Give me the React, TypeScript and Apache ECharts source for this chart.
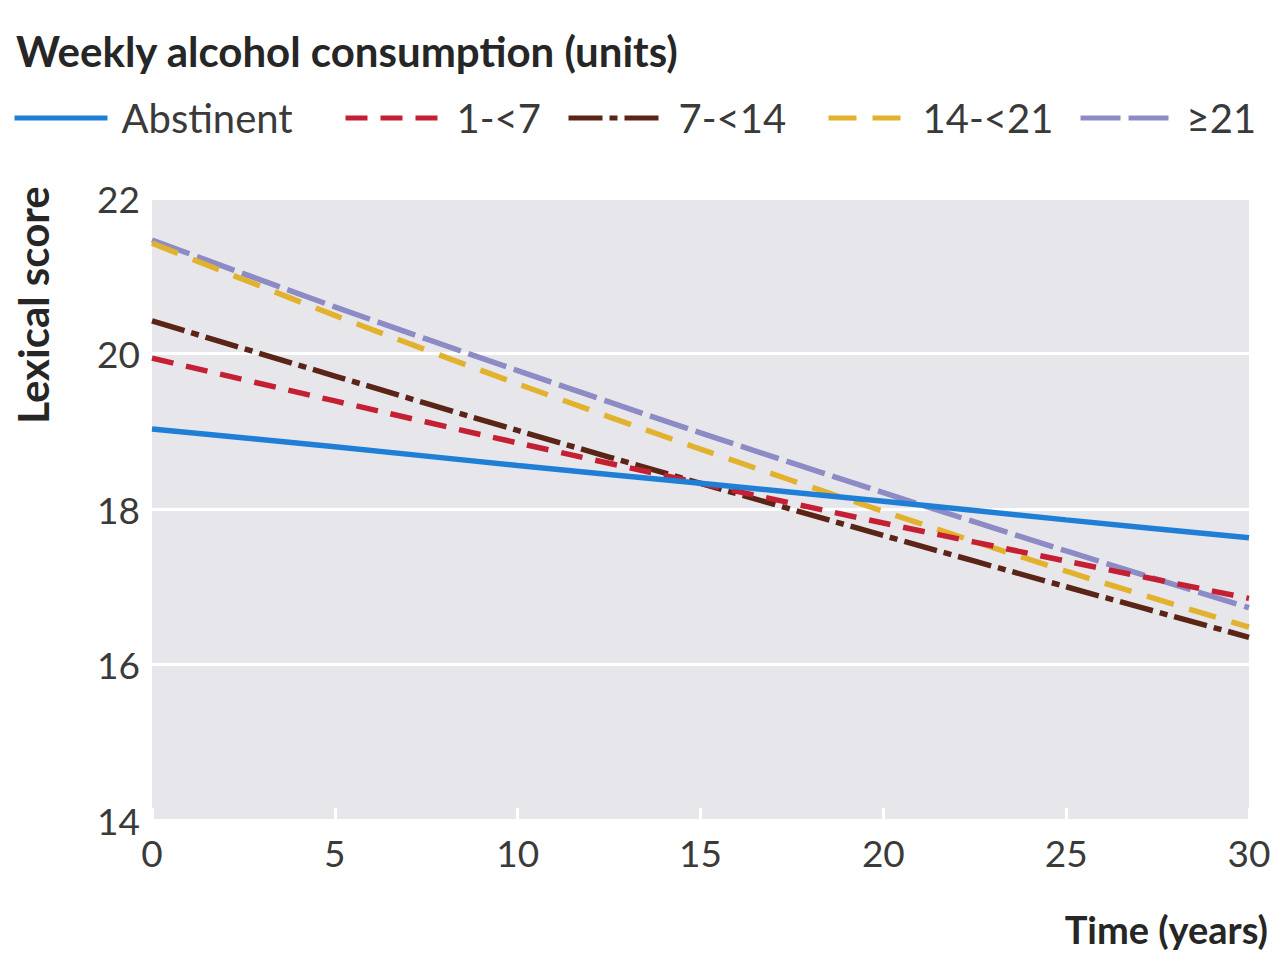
import React, { useEffect, useRef } from "react";
import * as echarts from "echarts";

const years = [0, 5, 10, 15, 20, 25, 30];
const abstinent = [19.03, 18.8, 18.56, 18.33, 18.1, 17.86, 17.63];
const units1to7 = [19.94, 19.39, 18.85, 18.33, 17.82, 17.33, 16.85];
const units7to14 = [20.42, 19.71, 19.01, 18.33, 17.66, 17.0, 16.35];
const units14to21 = [21.42, 20.49, 19.61, 18.77, 17.97, 17.2, 16.48];
const units21plus = [21.46, 20.6, 19.78, 18.98, 18.21, 17.46, 16.73];

const seriesNames = ["Abstinent", "1-<7", "7-<14", "14-<21", "≥21"];
const yTicks = [14, 16, 18, 20, 22];
const xTicks = [0, 5, 10, 15, 20, 25, 30];

const FONT = "Lato, 'Noto Sans', sans-serif";

function pairs(vals: number[]) {
  return years.map((x, i) => [x, vals[i]]);
}

export default function App() {
  const ref = useRef<HTMLDivElement>(null);
  useEffect(() => {
    document.body.style.margin = "0";
    const chart = echarts.init(ref.current!, null, { renderer: "svg" });
    const mk = (name: string, vals: number[], color: string, dash: number[] | "solid", z: number) => ({
      name,
      type: "line",
      data: pairs(vals),
      symbol: "none",
      smooth: 0.3,
      z,
      lineStyle: { color, width: 5.5, type: dash, cap: "butt" },
      itemStyle: { color },
    });
    const legendLeft = [12, 343, 566, 826, 1078];
    const legendIconW = [93, 97, 96, 80, 92];
    const legends = seriesNames.map((name, i) => ({
      data: [name],
      left: legendLeft[i],
      top: 98,
      padding: 0,
      itemWidth: legendIconW[i],
      itemHeight: 20,
      itemStyle: { opacity: 0 },
      lineStyle: { width: 5, cap: "butt" },
      textStyle: { fontFamily: FONT, fontSize: 40, color: "#3a3a3a", padding: [0, 0, 0, 9] },
    }));
    chart.setOption({
      animation: false,
      backgroundColor: "#ffffff",
      title: {
        text: "Weekly alcohol consumption (units)",
        left: 11,
        top: 25,
        textStyle: { fontFamily: FONT, fontSize: 42, fontWeight: "bold", color: "#262626" },
      },
      legend: legends,
      grid: {
        left: 152,
        right: 33,
        top: 198,
        bottom: 152,
        show: true,
        backgroundColor: "#e7e7eb",
        borderWidth: 0,
      },
      xAxis: {
        type: "value",
        min: xTicks[0],
        max: xTicks[xTicks.length - 1],
        interval: 5,
        axisLine: { show: false },
        axisTick: { show: true, inside: true, length: 12, lineStyle: { color: "#ffffff", width: 3 } },
        splitLine: { show: false },
        axisLabel: { fontFamily: FONT, fontSize: 37, color: "#3a3a3a", margin: 14 },
      },
      yAxis: {
        type: "value",
        min: yTicks[0],
        max: yTicks[yTicks.length - 1],
        interval: 2,
        axisLine: { show: false },
        axisTick: { show: false },
        splitLine: { show: true, lineStyle: { color: "#ffffff", width: 3 } },
        axisLabel: { fontFamily: FONT, fontSize: 37, color: "#3a3a3a", margin: 12 },
      },
      graphic: [
        {
          type: "text",
          x: 33,
          y: 305,
          rotation: Math.PI / 2,
          style: {
            text: "Lexical score",
            fontFamily: FONT,
            fontSize: 42,
            fontWeight: "bold",
            fill: "#262626",
            align: "center",
            verticalAlign: "middle",
          },
        },
        {
          type: "text",
          right: 14,
          top: 910,
          style: {
            text: "Time (years)",
            fontFamily: FONT,
            fontSize: 38,
            fontWeight: "bold",
            fill: "#262626",
          },
        },
      ],
      series: [
        mk("≥21", units21plus, "#8d8bc6", [40, 8], 2),
        mk("7-<14", units7to14, "#5a2517", [34, 7, 8, 7], 3),
        mk("14-<21", units14to21, "#e2b22e", [28, 16], 4),
        mk("1-<7", units1to7, "#c41f33", [22, 13], 5),
        mk("Abstinent", abstinent, "#1f7fd6", "solid", 6),
      ],
    });
    return () => chart.dispose();
  }, []);
  return <div ref={ref} style={{ position: "absolute", left: 0, top: 0, width: 1282, height: 972 }} />;
}
